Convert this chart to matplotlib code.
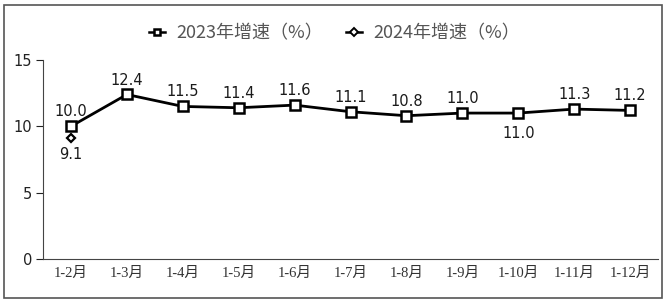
import matplotlib
matplotlib.use("Agg")
import matplotlib.pyplot as plt
from matplotlib.patches import Rectangle

plt.rcParams["font.family"] = ["DejaVu Sans", "Noto Sans CJK SC"]

months = ["1-2月", "1-3月", "1-4月", "1-5月", "1-6月", "1-7月",
          "1-8月", "1-9月", "1-10月", "1-11月", "1-12月"]
growth_2023 = [10.0, 12.4, 11.5, 11.4, 11.6, 11.1, 10.8, 11.0, 11.0, 11.3, 11.2]
growth_2024 = [9.1]
label_below_2023 = [8]  # index of labels drawn under the point

fig = plt.figure(figsize=(6.69, 3.02), dpi=100)
ax = fig.add_axes([0.0643, 0.1424, 0.9193, 0.6589])

x = list(range(len(months)))
ax.plot(x, growth_2023, color="black", lw=2, marker="s", ms=7,
        mfc="white", mec="black", mew=1.8, zorder=3)
ax.plot(x[:len(growth_2024)], growth_2024, color="black", marker="D",
        ms=4.5, mfc="white", mec="black", mew=1.6, linestyle="none", zorder=3)

# legend proxies: short handle with a small marker
h1, = ax.plot([], [], color="black", lw=1.8, marker="s", ms=5,
              mfc="white", mec="black", mew=1.8)
h2, = ax.plot([], [], color="black", lw=1.8, marker="D", ms=4,
              mfc="white", mec="black", mew=1.4)

lab_kw = dict(textcoords="offset points", ha="center", fontsize=10.5, color="#1a1a1a")
for i, v in enumerate(growth_2023):
    if i in label_below_2023:
        ax.annotate(f"{v:.1f}", (i, v), xytext=(0, -9), va="top", **lab_kw)
    else:
        ax.annotate(f"{v:.1f}", (i, v), xytext=(0, 5), va="bottom", **lab_kw)
for i, v in enumerate(growth_2024):
    ax.annotate(f"{v:.1f}", (i, v), xytext=(0, -6), va="top", **lab_kw)

ax.set_xlim(-0.5, len(months) - 0.5)
ax.set_ylim(0, 15)
ax.set_yticks([0, 5, 10, 15])
ax.set_xticks(x)
ax.set_xticklabels(months, fontsize=10.5, color="#333333",
                   family=["Liberation Serif", "Noto Sans CJK SC"])
ax.tick_params(axis="x", length=0, pad=6)
ax.tick_params(axis="y", length=5, width=0.8, direction="out", labelsize=10.5,
               colors="#222222", pad=3)
for side in ["top", "right"]:
    ax.spines[side].set_visible(False)
ax.spines["left"].set_color("#444444")
ax.spines["bottom"].set_color("#444444")

fig.legend([h1, h2], ["2023年增速（%）", "2024年增速（%）"], loc="center",
           bbox_to_anchor=(0.5, 0.89), ncol=2, frameon=False,
           prop={"family": "Noto Sans CJK SC", "size": 13},
           handlelength=0.9, handletextpad=0.6, columnspacing=1.3,
           labelcolor="#555555")

fig.patches.append(Rectangle((0.006, 0.013), 0.984, 0.97, transform=fig.transFigure,
                             fill=False, edgecolor="#555555", lw=1.2))

fig.savefig("out.png", dpi=100)
